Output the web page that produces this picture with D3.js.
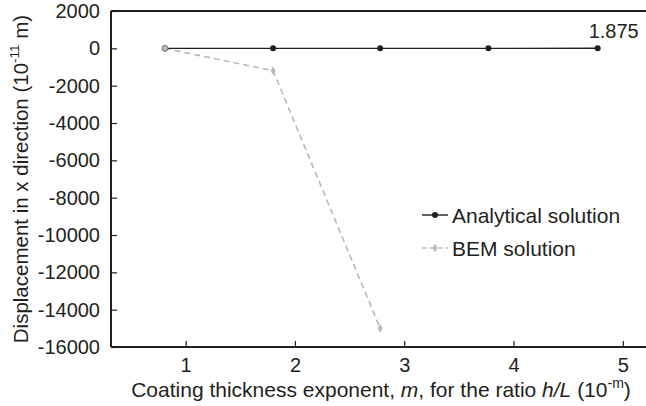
<!DOCTYPE html>
<html><head><meta charset="utf-8">
<script src="https://cdn.jsdelivr.net/npm/d3@7"></script>
<style>body{margin:0;background:#fff}svg{display:block}text{font-family:"Liberation Sans",Arial,sans-serif;fill:#231f20}</style>
</head><body>
<svg id="c" width="646" height="406"></svg>
<script>
const analyticalX = [0.81, 1.8, 2.78, 3.77, 4.77];
const analyticalY = [0, 0, 0, 0, 1.875];
const bemX = [0.81, 1.8, 2.78];
const bemY = [0, -1200, -15000];
const xTicks = [1, 2, 3, 4, 5];
const yTicks = [2000, 0, -2000, -4000, -6000, -8000, -10000, -12000, -14000, -16000];
const seriesNames = ["Analytical solution", "BEM solution"];

const svg = d3.select("#c");
const L = 111, T = 11, B = 347, R = 660;
const x = d3.scaleLinear().domain([0.317, 5.34]).range([L, R]);
const y = d3.scaleLinear().domain([-16000, 2000]).range([B, T]);
const FONT = "Liberation Sans, Arial, sans-serif";

// frame
svg.append("line").attr("x1", L).attr("x2", 646).attr("y1", T).attr("y2", T).attr("stroke", "#231f20").attr("stroke-width", 2);

const xa = svg.append("g").attr("transform", `translate(0,${B})`)
  .call(d3.axisBottom(x).tickValues(xTicks).tickSize(-6).tickPadding(11).tickFormat(d3.format("d")));
xa.select(".domain").attr("stroke", "#231f20").attr("stroke-width", 2).attr("d", `M${L},0H646`);
xa.selectAll(".tick line").attr("stroke", "#231f20").attr("stroke-width", 1.2);
xa.selectAll("text").attr("font-size", 20).style("font-family", FONT).attr("fill", "#231f20");

const ya = svg.append("g").attr("transform", `translate(${L},0)`)
  .call(d3.axisLeft(y).tickValues(yTicks).tickSize(-6).tickPadding(11).tickFormat(d => d < 0 ? "-" + Math.abs(d) : String(d)));
ya.select(".domain").attr("stroke", "#231f20").attr("stroke-width", 2).attr("d", `M0,${T}V${B}`);
ya.selectAll(".tick line").attr("stroke", "#231f20").attr("stroke-width", 1.2);
ya.selectAll("text").attr("font-size", 20).style("font-family", FONT).attr("fill", "#231f20");

// BEM
const bem = bemX.map((v, i) => [v, bemY[i]]);
svg.append("path").datum(bem).attr("fill", "none").attr("stroke", "#b9b9b9").attr("stroke-width", 1.6)
  .attr("stroke-dasharray", "6,4").attr("d", d3.line().x(d => x(d[0])).y(d => y(d[1])));
svg.selectAll(".bm").data(bem).enter().append("path")
  .attr("transform", d => `translate(${x(d[0])},${y(d[1])})`)
  .attr("d", d3.symbol(d3.symbolDiamond, 22)).attr("fill", "#b9b9b9");

// Analytical
const ana = analyticalX.map((v, i) => [v, analyticalY[i]]);
svg.append("path").datum(ana).attr("fill", "none").attr("stroke", "#231f20").attr("stroke-width", 1.4)
  .attr("d", d3.line().x(d => x(d[0])).y(d => y(d[1])));
svg.selectAll(".am").data(ana).enter().append("circle")
  .attr("cx", d => x(d[0])).attr("cy", d => y(d[1])).attr("r", 3)
  .attr("fill", (d, i) => i === 0 ? "#b9b9b9" : "#231f20")
  .attr("stroke", (d, i) => i === 0 ? "#666" : "none").attr("stroke-width", 0.8);

svg.append("text").attr("x", x(analyticalX[4]) + 16).attr("y", y(analyticalY[4]) - 10)
  .attr("text-anchor", "middle").attr("font-size", 20).text("1.875");

// legend
const lg = svg.append("g");
[0, 1].forEach(i => {
  const yy = 215 + i * 33;
  lg.append("line").attr("x1", 422).attr("x2", 448).attr("y1", yy).attr("y2", yy)
    .attr("stroke", i ? "#b9b9b9" : "#231f20").attr("stroke-width", i ? 1.6 : 1.4)
    .attr("stroke-dasharray", i ? "5,3" : null);
  if (i) lg.append("path").attr("transform", `translate(435,${yy})`).attr("d", d3.symbol(d3.symbolDiamond, 22)).attr("fill", "#b9b9b9");
  else lg.append("circle").attr("cx", 435).attr("cy", yy).attr("r", 3).attr("fill", "#231f20");
  lg.append("text").attr("x", 452).attr("y", yy + 7.5).attr("font-size", 21).text(seriesNames[i]);
});

// axis titles
const xt = svg.append("text").attr("x", 381).attr("y", 397).attr("text-anchor", "middle").attr("font-size", 21);
xt.append("tspan").text("Coating thickness exponent, ");
xt.append("tspan").attr("font-style", "italic").text("m");
xt.append("tspan").text(", for the ratio ");
xt.append("tspan").attr("font-style", "italic").text("h/L");
xt.append("tspan").text(" (10");
xt.append("tspan").attr("dy", -9).attr("font-size", 14).text("-m");
xt.append("tspan").attr("dy", 9).text(")");

const yt = svg.append("text").attr("transform", "translate(28,179) rotate(-90)").attr("text-anchor", "middle").attr("font-size", 20.5);
yt.append("tspan").text("Displacement in x direction (10");
yt.append("tspan").attr("dy", -9).attr("font-size", 13.5).text("-11");
yt.append("tspan").attr("dy", 9).text(" m)");
</script>
</body></html>
